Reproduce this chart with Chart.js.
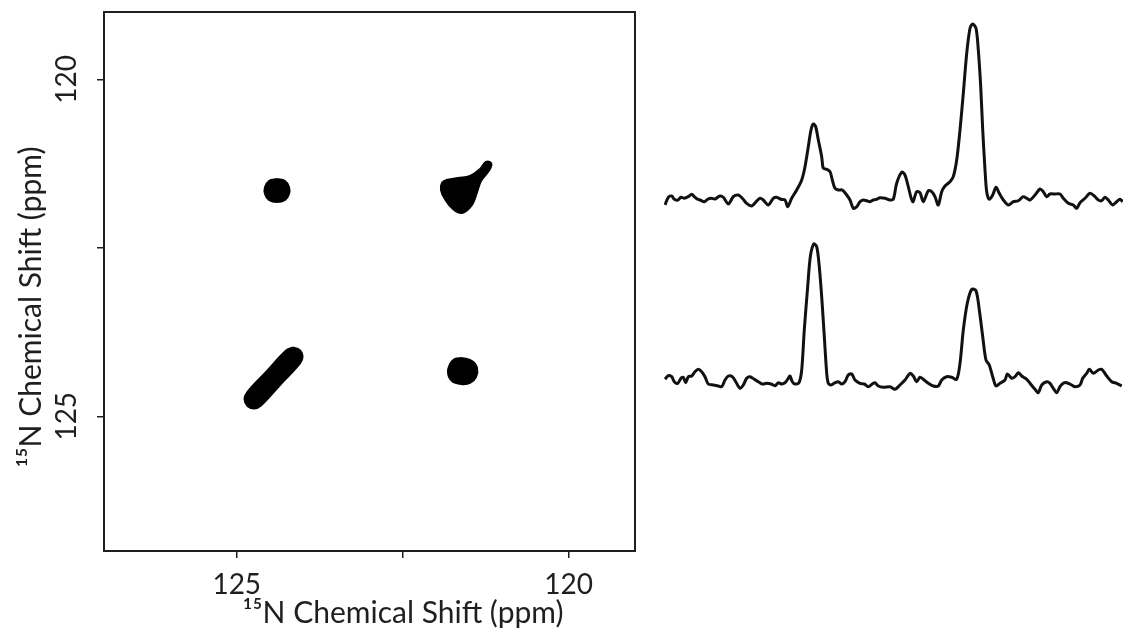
<!DOCTYPE html>
<html><head><meta charset="utf-8">
<script src="https://cdn.jsdelivr.net/npm/chart.js@4.4.1/dist/chart.umd.min.js"></script>
<style>
html,body{margin:0;padding:0;background:#fff;width:1127px;height:643px;overflow:hidden;position:relative}
#map{position:absolute;left:0;top:-29px;z-index:1}
#slices{position:absolute;left:650px;top:0;z-index:2}
</style></head><body>
<canvas id="map" width="806" height="672"></canvas>
<canvas id="slices" width="477" height="643"></canvas>
<script>
// ---- axis text ----
const axisTitle = '\u00B9\u2075N Chemical Shift (ppm)';
const xTickValues = [120, 122.5, 125];
const xTickLabels = ['120', '', '125'];
const yTickValues = [120, 122.5, 125];
const yTickLabels = ['120', '', '125'];

// ---- 2D spectrum: contour outlines of the four cross peaks (ppm, ppm) ----
const peakA_x = [124.394,124.273,124.213,124.213,124.273,124.394,124.514,124.574,124.574,124.514];
const peakA_y = [121.479,121.508,121.597,121.701,121.790,121.820,121.790,121.701,121.597,121.508];
const peakB_x = [121.847,121.667,121.486,121.335,121.245,121.169,121.185,121.320,121.380,121.456,121.606,121.742,121.863,121.923,121.908];
const peakB_y = [121.494,121.464,121.434,121.330,121.226,121.241,121.330,121.508,121.672,121.865,121.983,121.924,121.776,121.642,121.538];
const peakC_x = [121.606,121.456,121.380,121.396,121.486,121.621,121.757,121.817,121.787,121.712];
const peakC_y = [124.135,124.180,124.284,124.417,124.506,124.521,124.477,124.358,124.224,124.150];
const peakD_x = [124.158,124.055,124.009,124.048,124.341,124.635,124.735,124.838,124.883,124.845,124.551,124.257];
const peakD_y = [123.980,124.017,124.115,124.217,124.528,124.840,124.885,124.847,124.749,124.648,124.336,124.025];

// ---- 1D slices (ppm, intensity) ----
const sliceTopPpm = [127.082,127.023,126.962,126.916,126.855,126.796,126.737,126.666,126.605,126.559,
126.516,126.457,126.380,126.319,126.260,126.189,126.100,126.041,125.951,125.862,
125.773,125.701,125.623,125.533,125.444,125.385,125.326,125.237,125.147,125.087,
125.010,124.938,124.890,124.819,124.729,124.640,124.581,124.522,124.474,124.433,
124.390,124.343,124.283,124.254,124.193,124.134,124.093,124.045,123.986,123.915,
123.836,123.777,123.718,123.657,123.599,123.540,123.479,123.420,123.361,123.300,
123.241,123.152,123.063,123.004,122.943,122.854,122.795,122.736,122.657,122.586,
122.527,122.468,122.378,122.318,122.259,122.200,122.139,122.080,121.991,121.932,
121.871,121.812,121.753,121.692,121.633,121.585,121.526,121.485,121.442,121.406,
121.365,121.335,121.289,121.228,121.169,121.110,121.038,120.949,120.860,120.770,
120.681,120.620,120.561,120.472,120.383,120.324,120.263,120.204,120.115,120.026,
119.967,119.877,119.788,119.727,119.668,119.579,119.490,119.400,119.341,119.281,
119.222,119.163,119.084,119.013,118.954,118.905];
const sliceTopInt = [-1.25,0.68,1.0,0.18,0,0.68,0.43,0.83,1.43,0.83,
0.33,0,-0.43,0.18,0.43,0.25,1.0,0.68,-1.0,0.83,
1.25,0.43,-0.83,-1.5,-0.25,0.43,0,-1.25,0.43,0.68,
0.18,0,-1.68,0.43,2.5,5.0,8.33,13.33,17.5,19.0,
18.33,15.0,10.83,7.93,7.68,7.08,5.0,2.93,2.5,2.5,
1.25,0,-2.08,-1.68,-0.43,0,-0.18,-0.43,0,0.18,
0.58,0.43,0,0.18,4.18,6.93,6.25,3.33,-0.43,2.08,
1.83,-0.43,2.33,2.08,0.83,-1.25,2.08,3.5,4.58,5.83,
10.0,17.5,26.68,36.68,42.93,44.0,42.93,37.5,28.33,17.5,
7.5,2.08,0.18,1.25,3.18,1.68,0,-1.25,-0.43,-0.18,
0.83,0.43,0,1.25,2.75,2.08,0.83,1.5,1.5,1.5,
0.43,-0.83,-1.25,-2.08,-0.68,0.43,1.68,0.83,0,-0.18,
0.68,0,-1.25,-0.43,0.18,-0.43];
const sliceBottomPpm = [127.082,127.023,126.962,126.916,126.855,126.796,126.755,126.712,126.666,126.605,
126.546,126.487,126.427,126.368,126.309,126.219,126.130,126.069,126.010,125.951,
125.880,125.819,125.742,125.683,125.623,125.564,125.487,125.415,125.344,125.265,
125.188,125.117,125.058,124.997,124.938,124.879,124.849,124.808,124.760,124.688,
124.640,124.594,124.533,124.486,124.426,124.372,124.326,124.283,124.236,124.193,
124.165,124.117,124.045,123.986,123.925,123.866,123.808,123.747,123.688,123.599,
123.522,123.450,123.379,123.331,123.272,123.182,
123.063,122.973,122.884,122.795,122.705,122.646,122.586,122.527,122.468,122.378,
122.289,122.200,122.139,122.050,121.960,121.871,121.812,121.753,121.682,121.603,
121.526,121.467,121.406,121.348,121.289,121.228,121.169,121.097,121.008,120.967,
120.888,120.829,120.770,120.710,120.620,120.561,120.472,120.413,120.352,120.263,
120.204,120.145,120.084,120.026,119.967,119.906,119.817,119.758,119.668,119.620,
119.549,119.502,119.431,119.341,119.281,119.191,119.102,119.013,118.923];
const sliceBottomInt = [0.18,1.08,0.83,-0.43,-0.83,0.43,0.68,-0.68,0.83,1.0,
2.08,2.68,2.08,0.83,-1.0,-1.25,-1.5,-1.68,0,1.0,
0.83,-0.43,-2.08,-1.25,0.43,0.83,0.18,-0.43,-1.0,-0.83,
-1.0,-1.43,-0.68,-1.0,-0.68,0.43,1.0,-0.43,-1.0,-0.68,
2.5,12.5,23.33,30.83,34.0,33.33,28.33,20.83,10.83,1.68,
-0.83,-1.25,-0.68,-0.43,-1.0,-0.43,1.25,1.5,0,-0.83,
-1.0,-1.68,-1.0,-0.68,-1.5,-1.83,
-1.68,-2.33,-1.25,0,1.68,1.0,-0.43,0.68,0.18,-0.83,
-1.5,-1.5,0,0.83,0.68,0.18,4.18,12.5,19.18,22.68,
22.33,17.5,10.83,5.0,3.75,0.83,-1.5,-0.83,0,1.5,
0.43,0.83,1.83,1.0,0.18,-0.83,-2.33,-3.18,-1.25,-0.43,
-0.83,-2.08,-3.18,-1.68,-0.83,-0.68,-1.25,-1.68,-1.25,0.43,
1.68,2.68,1.68,2.5,2.68,1.0,-0.43,-0.83,-1.5];
const sliceOffsets = [52.5, 7.5]; // vertical stacking of the two slices

// ---- styling ----
const FONT = 'Lato, "Open Sans", sans-serif';
const INK = '#1f1f1f';
const tickFont = {family: FONT, size: 28, weight: 'normal'};
const titleFont = {family: FONT, size: 30, weight: 'normal'};

function closedOutline(xs, ys) {
  const pts = xs.map((x, i) => ({x: x, y: ys[i]}));
  pts.push({x: xs[0], y: ys[0]});
  return pts;
}
const peaks = [[peakA_x, peakA_y], [peakB_x, peakB_y], [peakC_x, peakC_y], [peakD_x, peakD_y]];

function labelFor(values, labels) {
  return v => { const i = values.indexOf(v); return i < 0 ? '' : labels[i]; };
}

new Chart(document.getElementById('map'), {
  type: 'line',
  data: {
    datasets: peaks.map(p => ({
      data: closedOutline(p[0], p[1]),
      borderColor: '#000', backgroundColor: '#000', borderWidth: 2,
      fill: 'shape', pointRadius: 0, tension: 0.4
    }))
  },
  options: {
    responsive: false, animation: false, events: [],
    layout: {padding: 0},
    plugins: {
      legend: {display: false}, tooltip: {enabled: false},
      title: {display: true, position: 'left', text: axisTitle, color: INK,
              font: titleFont, padding: {top: 13, bottom: 0}},
      subtitle: {display: true, position: 'bottom', text: axisTitle, color: INK,
              font: titleFont, padding: {top: 0, bottom: 12}}
    },
    scales: {
      x: {
        type: 'linear', position: 'bottom', min: 119, max: 127, reverse: true,
        afterBuildTicks: s => { s.ticks = xTickValues.map(v => ({value: v})); },
        afterFit: s => { s.height = 44; },
        grid: {drawOnChartArea: false, drawTicks: true, tickLength: 7, color: INK, lineWidth: 1.5},
        border: {display: true, color: INK, width: 2},
        ticks: {color: INK, font: tickFont, padding: 10.5, maxRotation: 0, autoSkip: false,
                callback: labelFor(xTickValues, xTickLabels)}
      },
      y: {
        type: 'linear', position: 'left', min: 119, max: 127, reverse: true,
        afterBuildTicks: s => { s.ticks = yTickValues.map(v => ({value: v})); },
        afterFit: s => { s.width = 55; },
        grid: {drawOnChartArea: false, drawTicks: true, tickLength: 7, color: INK, lineWidth: 1.5},
        border: {display: true, color: INK, width: 2},
        ticks: {color: INK, font: tickFont, padding: 6, minRotation: 90, maxRotation: 90,
                crossAlign: 'center', autoSkip: false, callback: labelFor(yTickValues, yTickLabels)}
      },
      xTop: {
        type: 'linear', axis: 'x', position: 'top', min: 119, max: 127, reverse: true,
        grid: {display: false}, ticks: {display: false},
        border: {display: true, color: INK, width: 2},
        afterFit: s => { s.height = 41; s.paddingLeft = 0; s.paddingRight = 0; }
      },
      yRight: {
        type: 'linear', axis: 'y', position: 'right', min: 119, max: 127, reverse: true,
        grid: {display: false}, ticks: {display: false},
        border: {display: true, color: INK, width: 2},
        afterFit: s => { s.width = 171; s.paddingTop = 0; s.paddingBottom = 0; }
      }
    }
  }
});

new Chart(document.getElementById('slices'), {
  type: 'line',
  data: {
    datasets: [
      {data: sliceTopPpm.map((p, i) => ({x: p, y: sliceTopInt[i] + sliceOffsets[0]}))},
      {data: sliceBottomPpm.map((p, i) => ({x: p, y: sliceBottomInt[i] + sliceOffsets[1]}))}
    ].map(d => Object.assign(d, {borderColor: '#111', borderWidth: 3, pointRadius: 0,
                                  tension: 0.3, fill: false}))
  },
  options: {
    responsive: false, animation: false, events: [],
    layout: {padding: {left: 14, right: 4, top: 10, bottom: 233}},
    plugins: {legend: {display: false}, tooltip: {enabled: false}},
    scales: {
      x: {type: 'linear', display: false, min: 118.9, max: 127.1, reverse: true},
      y: {type: 'linear', display: false, min: 0, max: 100}
    }
  }
});
</script></body></html>
